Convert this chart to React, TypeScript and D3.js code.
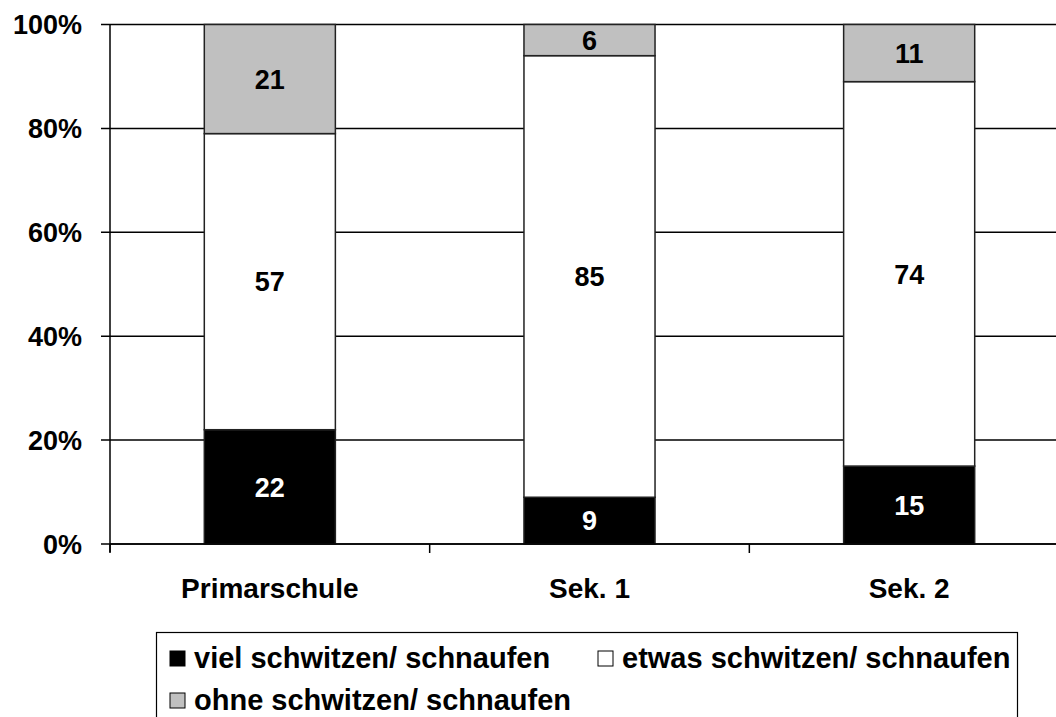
import React from "react";
import * as d3 from "d3";

const categories = ["Primarschule", "Sek. 1", "Sek. 2"];
const seriesNames = ["viel schwitzen/ schnaufen", "etwas schwitzen/ schnaufen", "ohne schwitzen/ schnaufen"];
const seriesColors = ["#000000", "#ffffff", "#c0c0c0"];
const labelColors = ["#ffffff", "#000000", "#000000"];
const viel = [22, 9, 15];
const etwas = [57, 85, 74];
const ohne = [21, 6, 11];
const yTicks = [0, 20, 40, 60, 80, 100];

const W = 1056;
const H = 717;
const left = 110;
const right = 1069;
const top = 24.5;
const bottom = 544;
const font = "'Liberation Sans', Arial, sans-serif";

export default function App() {
  const x = d3.scaleBand<string>().domain(categories).range([left, right]).paddingInner(0.59).paddingOuter(0.295);
  const y = d3.scaleLinear().domain([0, 100]).range([bottom, top]);
  const rows = categories.map((c, i) => ({ cat: c, v0: viel[i], v1: etwas[i], v2: ohne[i] }));
  const stack = d3.stack<any>().keys(["v0", "v1", "v2"])(rows);
  const step = (right - left) / categories.length;

  return (
    <svg width={W} height={H} style={{ position: "absolute", left: 0, top: 0, background: "#fff" }} fontFamily={font}>
      <rect x={0} y={0} width={W} height={H} fill="#fff" />
      {yTicks.map((t) => (
        <g key={t}>
          <line x1={left - 9} x2={right} y1={y(t)} y2={y(t)} stroke="#000" strokeWidth={1.5} />
          <text x={82} y={y(t)} dy="0.36em" textAnchor="end" fontSize={27} fontWeight="bold">{t}%</text>
        </g>
      ))}
      {stack.map((s, si) =>
        s.map((d, i) => (
          <g key={si + "-" + i}>
            <rect
              x={x(categories[i])}
              y={y(d[1])}
              width={x.bandwidth()}
              height={y(d[0]) - y(d[1])}
              fill={seriesColors[si]}
              stroke="#222"
              strokeWidth={1.5}
            />
            <text
              x={(x(categories[i]) as number) + x.bandwidth() / 2}
              y={(y(d[0]) + y(d[1])) / 2}
              dy="0.36em"
              textAnchor="middle"
              fontSize={27}
              fontWeight="bold"
              fill={labelColors[si]}
            >
              {d[1] - d[0]}
            </text>
          </g>
        ))
      )}
      <line x1={left} x2={left} y1={top} y2={bottom + 8} stroke="#000" strokeWidth={1.5} />
      <line x1={left} x2={right} y1={bottom} y2={bottom} stroke="#000" strokeWidth={1.5} />
      {[0, 1, 2, 3].map((k) => (
        <line key={k} x1={left + k * step} x2={left + k * step} y1={bottom} y2={bottom + 9} stroke="#000" strokeWidth={1.5} />
      ))}
      {categories.map((c) => (
        <text key={c} x={(x(c) as number) + x.bandwidth() / 2} y={588} dy="0.36em" textAnchor="middle" fontSize={28} fontWeight="bold">
          {c}
        </text>
      ))}
      <rect x={156.5} y={632.5} width={861} height={120} fill="#fff" stroke="#000" strokeWidth={1.2} />
      {seriesNames.map((n, i) => {
        const lx = i === 1 ? 598 : 170;
        const base = i === 2 ? 710 : 668;
        return (
          <g key={n}>
            <rect x={lx} y={base - 17} width={15} height={15} fill={seriesColors[i]} stroke="#000" strokeWidth={1} />
            <text x={lx + 24} y={base} fontSize={29} fontWeight="bold">{n}</text>
          </g>
        );
      })}
    </svg>
  );
}
